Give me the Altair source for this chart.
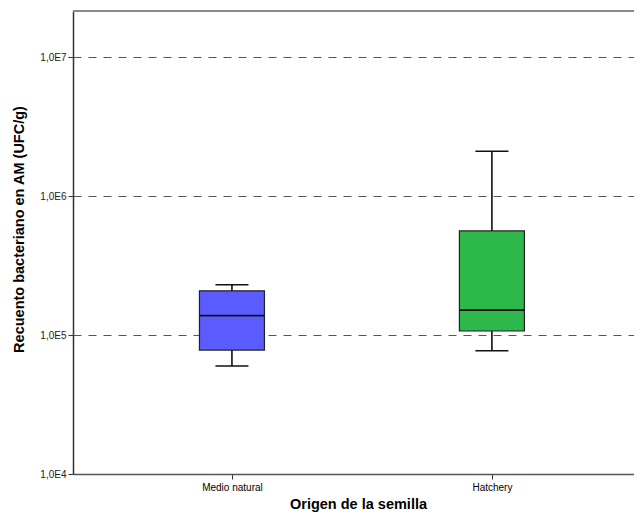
import altair as alt
import pandas as pd

categories = ["Medio natural", "Hatchery"]
whisker_low = [6.0e4, 7.7e4]
q1 = [7.8e4, 1.07e5]
median = [1.38e5, 1.51e5]
q3 = [2.08e5, 5.62e5]
whisker_high = [2.30e5, 2.10e6]
box_colors = ["#5a5cff", "#2cb84a"]
y_ticks = [1e4, 1e5, 1e6, 1e7]

df = pd.DataFrame({
    "origen": categories,
    "low": whisker_low,
    "q1": q1,
    "median": median,
    "q3": q3,
    "high": whisker_high,
})

W, H = 561, 463
FONT = "Liberation Sans"

x_axis = alt.Axis(
    title="Origen de la semilla", titleFont=FONT, titleFontSize=14.5, titleFontWeight="bold",
    titleColor="black", titleX=285, titleY=30, titleBaseline="middle", titleAlign="center",
    labelFont=FONT, labelFontSize=10, labelColor="black", labelAngle=0, labelPadding=3,
    tickSize=5, tickColor="#333", domainColor="#555", domainWidth=1.5, grid=False,
)
y_axis = alt.Axis(
    title="Recuento bacteriano en AM (UFC/g)", titleFont=FONT, titleFontSize=14.5,
    titleFontWeight="bold", titleColor="black", titleX=-53.5, titleY=218,
    titleBaseline="middle", titleAlign="center", titleAngle=270,
    values=y_ticks, labelExpr="'1,0E' + format(round(log(datum.value) / LN10), 'd')",
    labelFont=FONT, labelFontSize=10, labelColor="#222", labelPadding=2,
    tickSize=5, tickColor="#333", domainColor="#333", domainWidth=1.5,
    grid=True, gridDash=[8, 7], gridColor="#555", gridWidth=1,
)

x_scale = alt.Scale(type="point", padding=0.579, align=0.528)
y_scale = alt.Scale(type="log", domain=[1e4, 2.15e7], nice=False)


def X():
    return alt.X("origen:N", sort=categories, scale=x_scale, axis=x_axis)


def Y(field):
    return alt.Y(f"{field}:Q", scale=y_scale, axis=y_axis)


base = alt.Chart(df)

whisker = base.mark_rule(color="black", strokeWidth=1.5).encode(
    x=X(), y=Y("low"), y2="high:Q"
)
box = base.mark_bar(size=65, stroke="#222", strokeWidth=1.2, opacity=1).encode(
    x=X(), y=Y("q1"), y2="q3:Q",
    color=alt.Color("origen:N", scale=alt.Scale(domain=categories, range=box_colors), legend=None),
)
med = base.mark_tick(size=65, thickness=1.8, color="#111", opacity=1).encode(x=X(), y=Y("median"))
cap_low = base.mark_tick(size=33, thickness=1.5, color="#111", opacity=1).encode(x=X(), y=Y("low"))
cap_high = base.mark_tick(size=33, thickness=1.5, color="#111", opacity=1).encode(x=X(), y=Y("high"))

top_border = alt.Chart(df).mark_rule(color="#888", strokeWidth=2).encode(
    x=alt.value(0), x2=alt.value(W), y=alt.value(0)
)

chart = alt.layer(whisker, box, med, cap_low, cap_high, top_border).properties(
    width=W, height=H,
    autosize=alt.AutoSizeParams(type="none"),
    padding={"left": 65, "top": 3, "right": 0, "bottom": 40},
).configure_view(stroke=None).configure(background="white")

chart.save("out.html", embed_options={"renderer": "svg", "actions": False})
